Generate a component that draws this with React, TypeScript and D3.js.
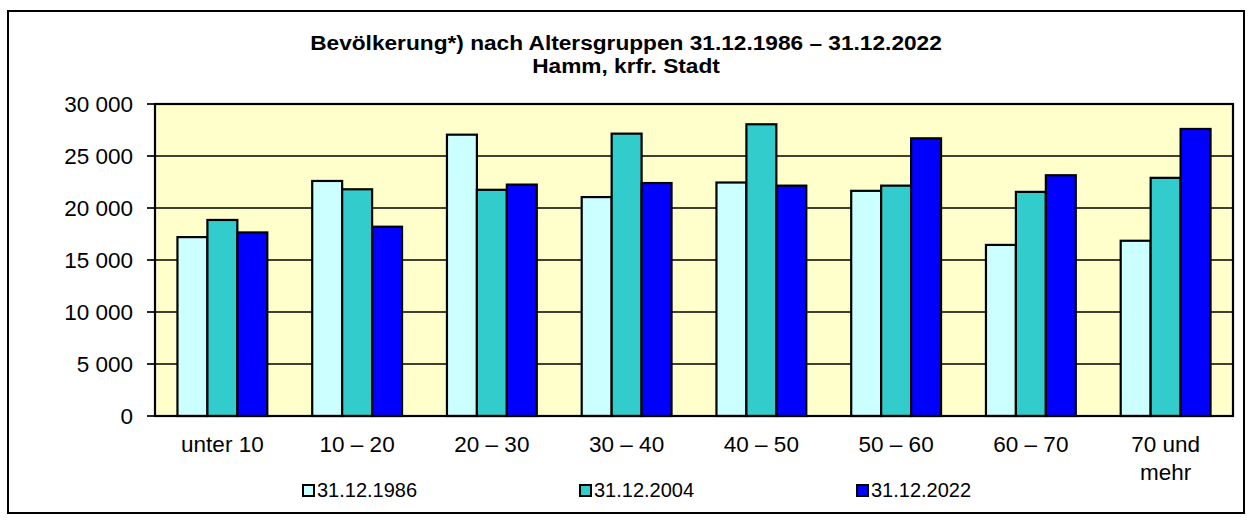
import React from "react";
import * as d3 from "d3";

const categories = ["unter 10", "10 – 20", "20 – 30", "30 – 40", "40 – 50", "50 – 60", "60 – 70", "70 und\nmehr"];
const seriesNames = ["31.12.1986", "31.12.2004", "31.12.2022"];
const values1986 = [17200, 22600, 27050, 21050, 22450, 21650, 16450, 16850];
const values2004 = [18850, 21800, 21750, 27150, 28050, 22150, 21550, 22900];
const values2022 = [17650, 18200, 22250, 22400, 22150, 26700, 23150, 27600];
const yTicks = [0, 5000, 10000, 15000, 20000, 25000, 30000];
const titleLines = ["Bevölkerung*) nach Altersgruppen 31.12.1986 – 31.12.2022", "Hamm, krfr. Stadt"];
const colors = ["#CCFFFF", "#33CCCC", "#0000FF"];

const W = 1252;
const H = 522;
const plot = { left: 155, right: 1233, top: 104, bottom: 416 };
const font = "Arial, 'Liberation Sans', sans-serif";

export default function App() {
  const series = [values1986, values2004, values2022];
  const x = d3.scaleBand<string>().domain(categories).range([plot.left, plot.right]).paddingInner(0).paddingOuter(0);
  const y = d3.scaleLinear().domain([0, 30000]).range([plot.bottom, plot.top]);
  const bw = x.bandwidth() / 4.5;
  const xs = d3.scaleBand<number>().domain([0, 1, 2]).range([0, bw * 3]).padding(0);
  const fmt = d3.formatLocale({ decimal: ",", thousands: " ", grouping: [3], currency: ["", "€"] }).format(",d");
  const legendX = [303, 580, 857];
  const titleY = [50, 73];

  return (
    <svg width={W} height={H} style={{ position: "absolute", left: 0, top: 0, background: "#fff" }} fontFamily={font}>
      <rect x={8} y={11} width={1236} height={502} fill="#fff" stroke="#000" strokeWidth={2} />
      {titleLines.map((t, i) => (
        <text key={i} transform={`translate(626,${titleY[i]}) scale(1.08,1)`} textAnchor="middle" fontWeight="bold" fontSize={21} fill="#000">{t}</text>
      ))}
      <rect x={plot.left} y={plot.top} width={plot.right - plot.left} height={plot.bottom - plot.top} fill="#FFFFCC" />
      {yTicks.map((t) => (
        <g key={t}>
          <line x1={plot.left} x2={plot.right} y1={y(t)} y2={y(t)} stroke="#000" strokeWidth={1.7} />
          <line x1={plot.left - 8} x2={plot.left} y1={y(t)} y2={y(t)} stroke="#000" strokeWidth={1.7} />
          <text x={133} y={y(t)} dy="0.36em" textAnchor="end" fontSize={22.5} fill="#000">{fmt(t)}</text>
        </g>
      ))}
      {categories.map((c, ci) => {
        const gx = (x(c) as number) + bw * 0.75;
        return (
          <g key={c}>
            {series.map((s, si) => (
              <rect key={si} x={gx + (xs(si) as number)} y={y(s[ci])} width={bw} height={y(0) - y(s[ci])}
                fill={colors[si]} stroke="#000" strokeWidth={2.2} />
            ))}
            {c.split("\n").map((line, li) => (
              <text key={li} x={(x(c) as number) + x.bandwidth() / 2} y={452 + li * 28} textAnchor="middle" fontSize={22.5} fill="#000">{line}</text>
            ))}
          </g>
        );
      })}
      <rect x={plot.left} y={plot.top} width={plot.right - plot.left} height={plot.bottom - plot.top} fill="none" stroke="#000" strokeWidth={2.2} />
      {seriesNames.map((n, i) => (
        <g key={n}>
          <rect x={legendX[i]} y={485} width={11} height={11} fill={colors[i]} stroke="#000" strokeWidth={2} />
          <text x={legendX[i] + 14} y={497} fontSize={20} fill="#000">{n}</text>
        </g>
      ))}
    </svg>
  );
}
